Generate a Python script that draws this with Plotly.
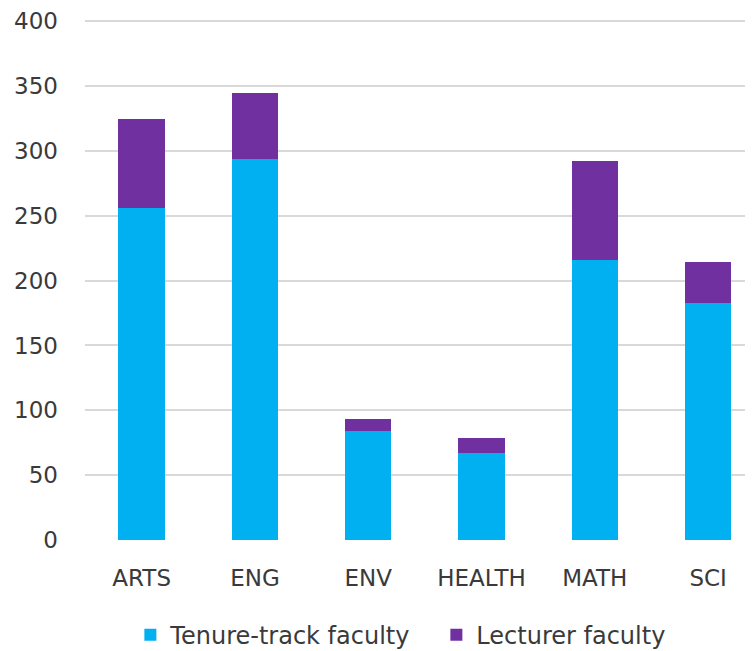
import plotly.graph_objects as go

# Fakultäten und Werte
faculties = ["ARTS", "ENG", "ENV", "HEALTH", "MATH", "SCI"]
tenure_track = [256, 294, 84, 67, 216, 183]
lecturer = [69, 51, 9, 12, 76, 31]
y_ticks = [0, 50, 100, 150, 200, 250, 300, 350, 400]

font_family = "DejaVu Sans, sans-serif"

fig = go.Figure()

fig.add_trace(go.Bar(
    x=faculties, y=tenure_track,
    name="Tenure-track faculty",
    marker=dict(color="#00b0f0", line=dict(width=0)),
))

fig.add_trace(go.Bar(
    x=faculties, y=lecturer,
    name="Lecturer faculty",
    marker=dict(color="#7030a0", line=dict(width=0)),
))

# Seite hat 8px Rand -> Figur etwas kleiner
fig.update_layout(
    barmode="stack",
    bargap=0.59,
    width=745, height=643,
    margin=dict(l=77, r=0, t=12, b=111, autoexpand=False),
    plot_bgcolor="white",
    paper_bgcolor="white",
    font=dict(family=font_family, size=23, color="#3a3a3a"),
    legend=dict(
        orientation="h",
        x=0.526, xanchor="center",
        y=-0.183, yanchor="middle",
        font=dict(size=24, color="#3a3a3a"),
        itemwidth=30,
        entrywidth=261,
        entrywidthmode="pixels",
        traceorder="normal",
    ),
)

fig.update_yaxes(
    range=[0, 401],
    tickvals=y_ticks,
    showgrid=True,
    gridcolor="#d9d9d9",
    gridwidth=2,
    zeroline=False,
    showline=False,
    automargin=False,
    ticklabelstandoff=26,
)

fig.update_xaxes(
    range=[-0.5, 5.396],
    showgrid=False,
    showline=False,
    ticks="",
    automargin=False,
    ticklabelstandoff=22,
)

fig.write_html("out.html")
